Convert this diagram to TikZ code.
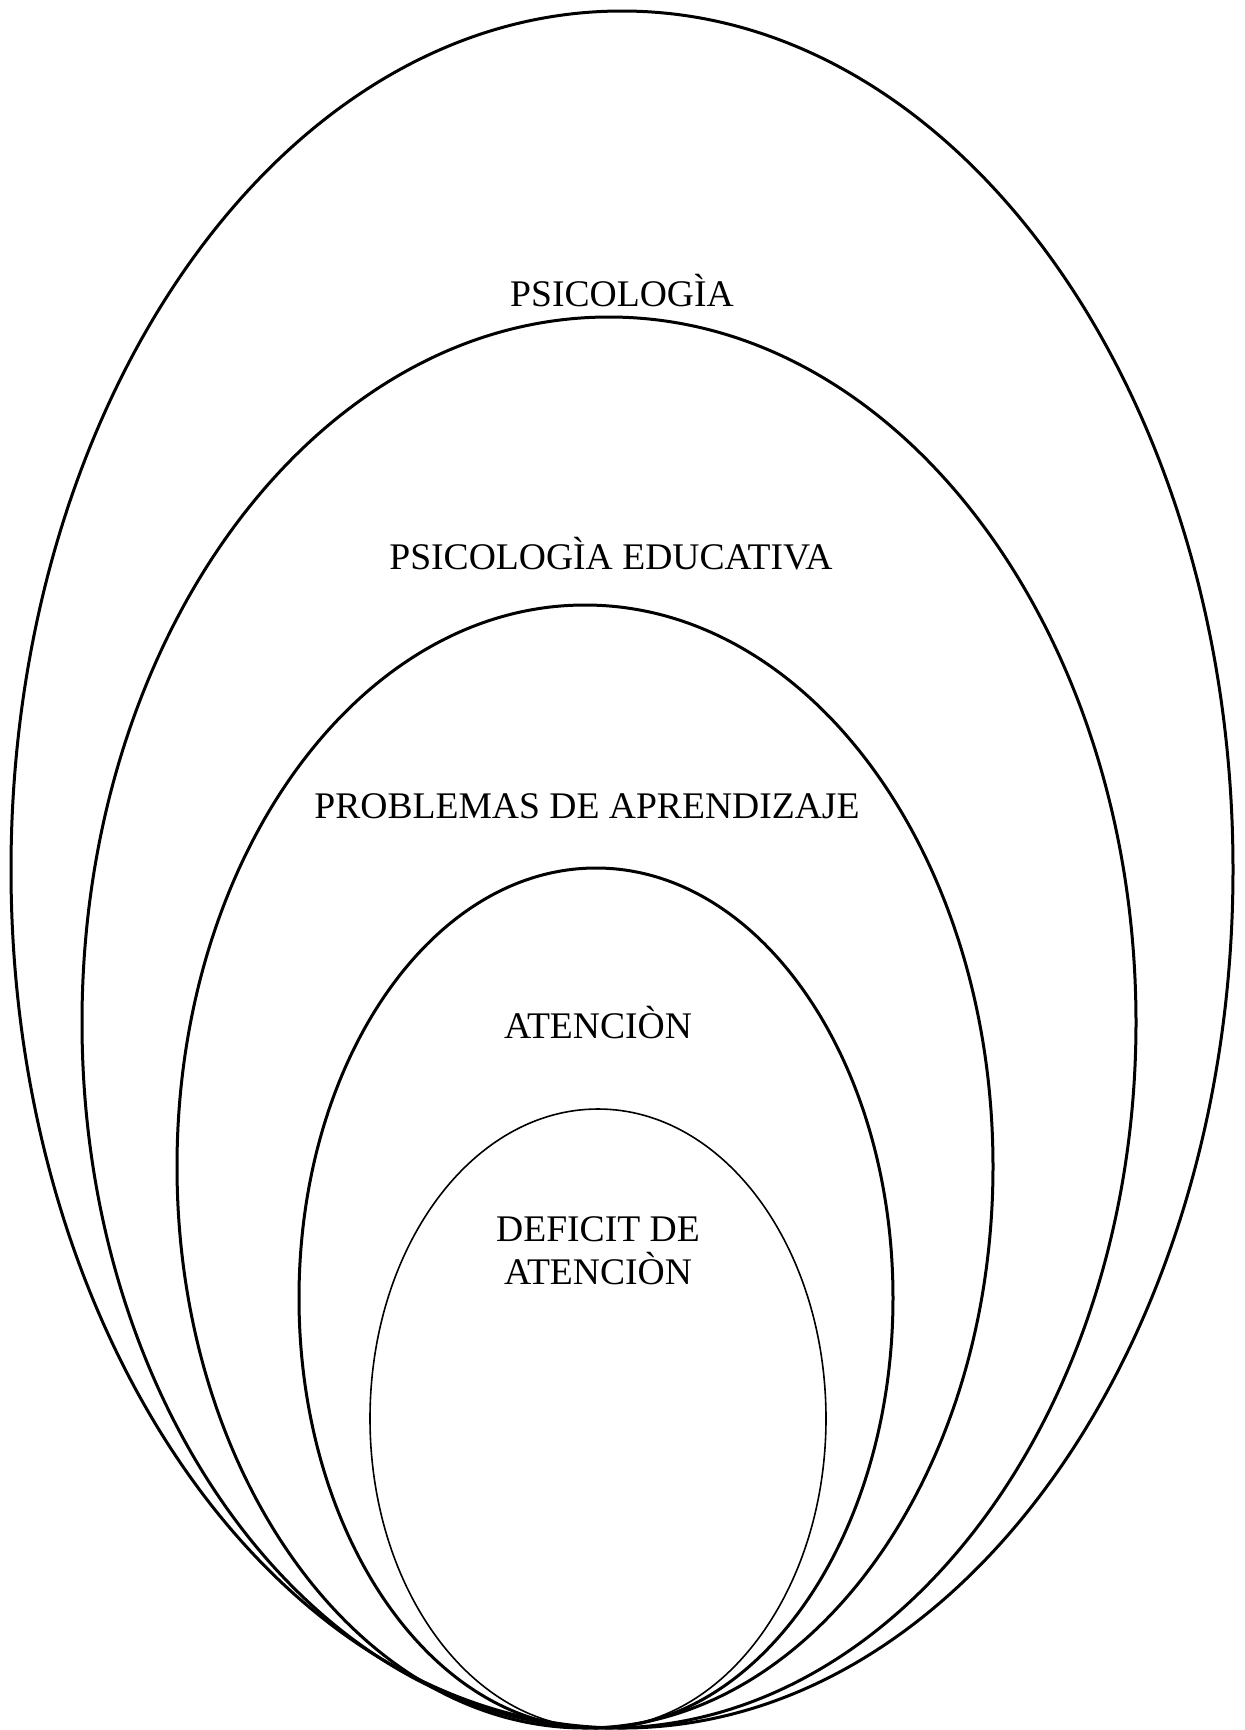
\documentclass[tikz,border=0pt]{standalone}
\usepackage{fontspec}
\setmainfont{Liberation Serif}
\begin{document}
\begin{tikzpicture}[x=1pt,y=-1pt,
  ring/.style={draw=black,line width=3pt},
  thinring/.style={draw=black,line width=1.6pt},
  label/.style={anchor=base,inner sep=0pt,font=\fontsize{37.6}{42}\selectfont}]
\useasboundingbox (0,0) rectangle (1245,1730);
\draw[ring] (622,869.5) ellipse [x radius=611,y radius=858.5];
\draw[ring] (609,1022.5) ellipse [x radius=527,y radius=705.5];
\draw[ring] (585,1166.5) ellipse [x radius=408,y radius=561.5];
\draw[ring] (596,1298) ellipse [x radius=297,y radius=430];
\draw[thinring] (598,1418.5) ellipse [x radius=228,y radius=309.5];
\node[label] (psi) at (622,306) {PSICOLOGÌA};
\node[label] (edu) at (611,569) {PSICOLOGÌA EDUCATIVA};
\node[label] (prob) at (587,818) {PROBLEMAS DE APRENDIZAJE};
\node[label] (aten) at (598,1038) {ATENCIÒN};
\node[label] (def1) at (598,1241) {DEFICIT DE};
\node[label] (def2) at (598,1284) {ATENCIÒN};
\end{tikzpicture}
\end{document}
